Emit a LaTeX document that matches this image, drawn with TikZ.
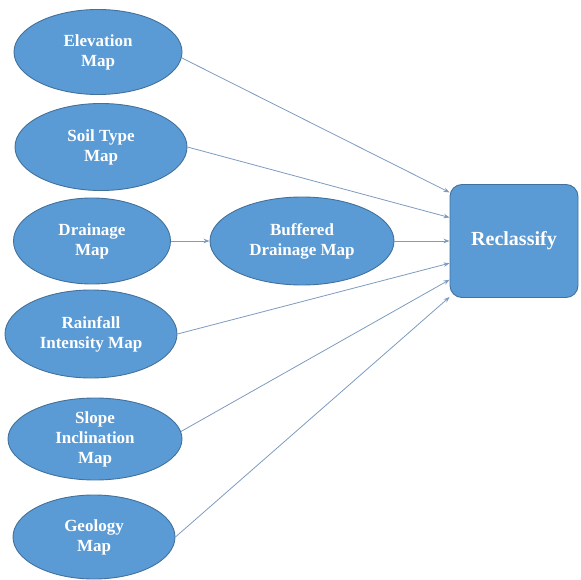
\documentclass[tikz,border=0pt]{standalone}
\usepackage{fontspec}
\setmainfont{Liberation Serif}
\usetikzlibrary{shapes.geometric,arrows.meta}
\definecolor{mapfill}{RGB}{91,155,213}
\definecolor{mapline}{RGB}{65,113,156}
\definecolor{arrowline}{RGB}{125,155,190}
\begin{document}
\begin{tikzpicture}[x=1pt,y=-1pt]
        \useasboundingbox (0,0) rectangle (581,580);

        \begin{scope}[every node/.style={ellipse,draw=mapline,fill=mapfill,line width=0.9pt,
            inner sep=0pt,text=white,align=center,font=\bfseries\fontsize{17}{20}\selectfont}]
          \node[minimum width=168pt,minimum height=85pt] (elev)  at (98,52)   {Elevation\\Map};
          \node[minimum width=172pt,minimum height=87pt] (soil)  at (101,147) {Soil Type\\Map};
          \node[minimum width=157pt,minimum height=86pt] (drain) at (92,241)  {Drainage\\Map};
          \node[minimum width=172pt,minimum height=88pt] (rain)  at (91,334)  {Rainfall\\Intensity Map};
          \node[minimum width=174pt,minimum height=82pt] (slope) at (95,439)  {Slope\\Inclination\\Map};
          \node[minimum width=162pt,minimum height=84pt] (geo)   at (94,537)  {Geology\\Map};
          \node[minimum width=184pt,minimum height=88pt] (buff)  at (302,241) {Buffered\\Drainage Map};
        \end{scope}

        \node[draw=mapline,fill=mapfill,line width=0.9pt,rounded corners=12pt,
          minimum width=128pt,minimum height=113pt,text=white,
          font=\bfseries\fontsize{20}{24}\selectfont] (rec) at (514,241) {Reclassify};

        \begin{scope}[every edge/.style={draw=arrowline,line width=0.8pt,
            -{Stealth[length=6pt,width=4.5pt]}}]
          \path (elev.-4)  edge (rec.143);
          \path (soil.east) edge (rec.160);
          \path (drain.east) edge (buff.west);
          \path (buff.east)  edge (rec.west);
          \path (rain.east)  edge (rec.199);
          \path (slope.5)    edge (rec.211);
          \path (geo.east)   edge (rec.221);
        \end{scope}

      \end{tikzpicture}
\end{document}
